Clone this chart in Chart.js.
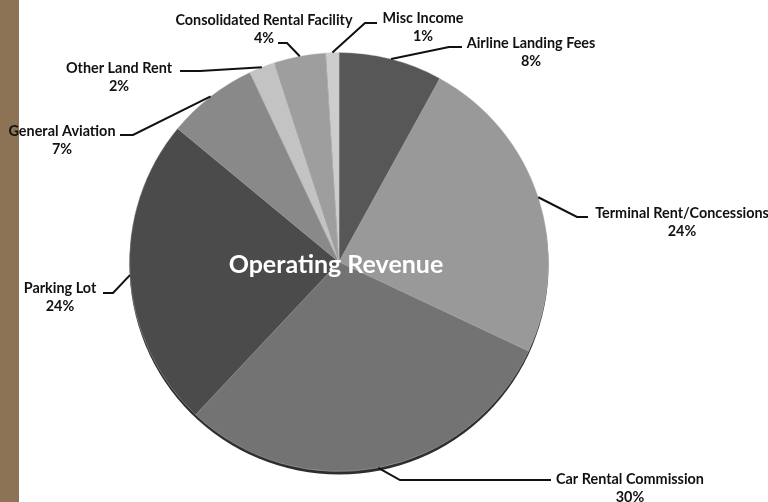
<!DOCTYPE html>
<html>
<head>
<meta charset="utf-8">
<script src="https://cdn.jsdelivr.net/npm/chart.js@4/dist/chart.umd.min.js"></script>
<style>
  html, body { margin: 0; padding: 0; background: #ffffff; }
  #wrap { position: relative; width: 768px; height: 502px; overflow: hidden; background: #ffffff; }
  #strip { position: absolute; left: 0; top: 0; width: 19px; height: 502px; background: #8c7356; }
  canvas { position: absolute; left: 0; top: 0; }
</style>
</head>
<body>
<div id="wrap">
  <div id="strip"></div>
  <canvas id="c" width="768" height="502"></canvas>
</div>
<script>
// ---- data ----
const categories = [
  "Airline Landing Fees",
  "Terminal Rent/Concessions",
  "Car Rental Commission",
  "Parking Lot",
  "General Aviation",
  "Other Land Rent",
  "Consolidated Rental Facility",
  "Misc Income"
];
const shares = [8, 24, 30, 24, 7, 2, 4, 1];
const percentLabels = ["8%", "24%", "30%", "24%", "7%", "2%", "4%", "1%"];
const chartTitle = "Operating Revenue";

// ---- style / layout (not data) ----
const sliceColors = ["#575757", "#999999", "#737373", "#4b4b4b", "#898989", "#c3c3c3", "#9e9e9e", "#cdcdcd"];
const labelLayout = [
  { x: 531, y: 43, hx1: 462, hx2: 449, hy: 47 },
  { x: 682, y: 213, hx1: 588, hx2: 577, hy: 217 },
  { x: 630, y: 479, hx1: 551, hx2: 400, hy: 480 },
  { x: 60,  y: 288, hx1: 103, hx2: 113, hy: 293 },
  { x: 62,  y: 131, hx1: 120, hx2: 133, hy: 135 },
  { x: 119, y: 68,  hx1: 180, hx2: 200, hy: 71 },
  { x: 264, y: 20,  hx1: 278, hx2: 287, hy: 43 },
  { x: 423, y: 18,  hx1: 377, hx2: 365, hy: 23 }
];

const rimPlugin = {
  id: 'rim',
  beforeDatasetsDraw(chart) {
    const meta = chart.getDatasetMeta(0);
    const arc = meta.data[0];
    if (!arc) return;
    const ctx = chart.ctx;
    ctx.save();
    ctx.beginPath();
    ctx.arc(arc.x, arc.y + 3, arc.outerRadius, 0, Math.PI * 2);
    ctx.fillStyle = '#2e2e2e';
    ctx.fill();
    ctx.restore();
  }
};

const labelPlugin = {
  id: 'labels',
  afterDatasetsDraw(chart) {
    const ctx = chart.ctx;
    const meta = chart.getDatasetMeta(0);
    ctx.save();
    meta.data.forEach((arc, i) => {
      const L = labelLayout[i];
      const mid = (arc.startAngle + arc.endAngle) / 2;
      const ex = arc.x + Math.cos(mid) * arc.outerRadius;
      const ey = arc.y + Math.sin(mid) * arc.outerRadius;
      ctx.beginPath();
      ctx.moveTo(L.hx1, L.hy);
      ctx.lineTo(L.hx2, L.hy);
      ctx.lineTo(ex, ey);
      ctx.strokeStyle = '#111111';
      ctx.lineWidth = 2;
      ctx.stroke();
      ctx.fillStyle = '#111111';
      ctx.font = 'bold 14.4px Lato';
      ctx.textAlign = 'center';
      ctx.textBaseline = 'middle';
      ctx.fillText(chart.data.labels[i], L.x, L.y);
      ctx.fillText(percentLabels[i], L.x, L.y + 18);
    });
    const a0 = meta.data[0];
    ctx.fillStyle = '#ffffff';
    ctx.font = 'bold 25px Lato';
    ctx.textAlign = 'center';
    ctx.textBaseline = 'middle';
    ctx.fillText(chartTitle, a0.x - 3, a0.y + 3);
    ctx.restore();
  }
};

new Chart(document.getElementById('c'), {
  type: 'pie',
  data: {
    labels: categories,
    datasets: [{
      data: shares,
      backgroundColor: sliceColors,
      borderColor: 'rgba(200,200,200,0.35)',
      borderWidth: 1
    }]
  },
  options: {
    responsive: false,
    animation: false,
    layout: { padding: { left: 129, right: 219, top: 52, bottom: 30 } },
    plugins: {
      legend: { display: false },
      tooltip: { enabled: false },
      title: { display: false }
    }
  },
  plugins: [rimPlugin, labelPlugin]
});
</script>
</body>
</html>
